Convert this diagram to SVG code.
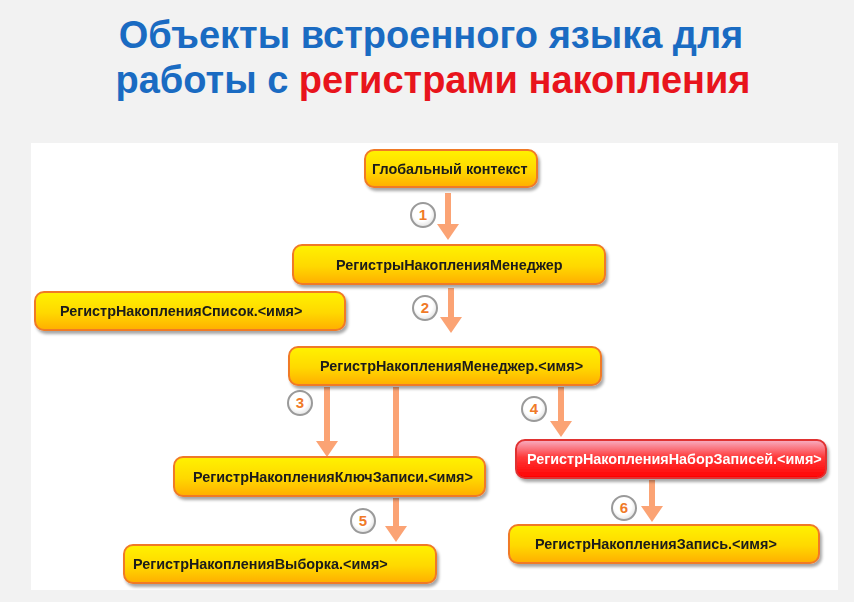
<svg xmlns="http://www.w3.org/2000/svg" width="854" height="602" viewBox="0 0 854 602">
<defs>
<linearGradient id="gy" x1="0" y1="0" x2="0" y2="1">
<stop offset="0" stop-color="#fff200"/>
<stop offset="0.55" stop-color="#ffd800"/>
<stop offset="1" stop-color="#ffae00"/>
</linearGradient>
<linearGradient id="gr" x1="0" y1="0" x2="0" y2="1">
<stop offset="0" stop-color="#f7b0c4"/>
<stop offset="0.45" stop-color="#ff3a3a"/>
<stop offset="1" stop-color="#ff0000"/>
</linearGradient>
<radialGradient id="gc" cx="0.45" cy="0.4" r="0.6">
<stop offset="0.6" stop-color="#ffffff"/>
<stop offset="1" stop-color="#e4e4e4"/>
</radialGradient>
<filter id="sh" x="-10%" y="-30%" width="120%" height="170%">
<feGaussianBlur in="SourceAlpha" stdDeviation="1.5"/>
<feOffset dx="1.5" dy="2.5"/>
<feComponentTransfer><feFuncA type="linear" slope="0.35"/></feComponentTransfer>
<feMerge><feMergeNode/><feMergeNode in="SourceGraphic"/></feMerge>
</filter>
<marker id="ah" viewBox="0 0 16 22" refX="1" refY="11" markerWidth="16" markerHeight="22" markerUnits="userSpaceOnUse" orient="auto">
<path d="M0,0 L16,11 L0,22 Z" fill="#fba374"/>
</marker>
</defs>
<style>
.t1{font-family:"Liberation Sans",Arial,sans-serif;font-weight:bold;font-size:38px;text-anchor:middle}
.box{fill:url(#gy);stroke:#f07a28;stroke-width:2}
.rbox{fill:url(#gr);stroke:#e03030;stroke-width:2}
.lbl{font-family:"Liberation Sans",Arial,sans-serif;font-weight:bold;font-size:14.4px;fill:#1a1a1a}
.wl{fill:#ffffff}
.ln{stroke:#fba374;stroke-width:6;fill:none}
.circ{fill:url(#gc);stroke:#9a9a9a;stroke-width:2}
.num{font-family:"Liberation Sans",Arial,sans-serif;font-weight:bold;font-size:15px;fill:#f07a28;text-anchor:middle}
</style>
<rect width="854" height="602" fill="#f2f2f2"/>
<rect x="31" y="143" width="807" height="447" fill="#ffffff"/>
<g id="title">
<text class="t1" x="431" y="48" fill="#1a6bc2">Объекты встроенного языка для</text>
<text class="t1" x="433" y="93"><tspan fill="#1a6bc2">работы с </tspan><tspan fill="#e8141c">регистрами накопления</tspan></text>
</g>
<g id="connectors">
<line class="ln" x1="448" y1="193" x2="448" y2="225" marker-end="url(#ah)"/>
<line class="ln" x1="451" y1="288" x2="451" y2="318" marker-end="url(#ah)"/>
<line class="ln" x1="327" y1="387" x2="327" y2="442" marker-end="url(#ah)"/>
<line class="ln" x1="396" y1="387" x2="396" y2="458"/>
<line class="ln" x1="561" y1="387" x2="561" y2="422" marker-end="url(#ah)"/>
<line class="ln" x1="396" y1="498" x2="396" y2="527" marker-end="url(#ah)"/>
<line class="ln" x1="652" y1="480" x2="652" y2="507" marker-end="url(#ah)"/>
</g>
<g id="badges">
<g id="b1"><circle class="circ" cx="423" cy="215" r="12"/><text class="num" x="423" y="220">1</text></g>
<g id="b2"><circle class="circ" cx="425" cy="308" r="12"/><text class="num" x="425" y="313">2</text></g>
<g id="b3"><circle class="circ" cx="300" cy="403" r="12"/><text class="num" x="300" y="408">3</text></g>
<g id="b4"><circle class="circ" cx="534" cy="409" r="12"/><text class="num" x="534" y="414">4</text></g>
<g id="b5"><circle class="circ" cx="363" cy="521" r="12"/><text class="num" x="363" y="526">5</text></g>
<g id="b6"><circle class="circ" cx="624" cy="508" r="12"/><text class="num" x="624" y="513">6</text></g>
</g>
<g id="n-global" filter="url(#sh)"><rect class="box" x="365" y="150" width="172" height="37" rx="9"/><text class="lbl" x="372" y="174">Глобальный контекст</text></g>
<g id="n-managers" filter="url(#sh)"><rect class="box" x="293" y="245" width="312" height="39" rx="9"/><text class="lbl" x="336" y="270">РегистрыНакопленияМенеджер</text></g>
<g id="n-list" filter="url(#sh)"><rect class="box" x="35" y="292" width="310" height="38" rx="9"/><text class="lbl" x="60" y="316">РегистрНакопленияСписок.&lt;имя&gt;</text></g>
<g id="n-manager" filter="url(#sh)"><rect class="box" x="289" y="347" width="312" height="38" rx="9"/><text class="lbl" x="320" y="371">РегистрНакопленияМенеджер.&lt;имя&gt;</text></g>
<g id="n-key" filter="url(#sh)"><rect class="box" x="174" y="457" width="311" height="39" rx="9"/><text class="lbl" x="193" y="482">РегистрНакопленияКлючЗаписи.&lt;имя&gt;</text></g>
<g id="n-set" filter="url(#sh)"><rect class="rbox" x="516" y="440" width="310" height="38" rx="9"/><text class="lbl wl" x="527" y="464">РегистрНакопленияНаборЗаписей.&lt;имя&gt;</text></g>
<g id="n-select" filter="url(#sh)"><rect class="box" x="124" y="545" width="312" height="38" rx="9"/><text class="lbl" x="133" y="569">РегистрНакопленияВыборка.&lt;имя&gt;</text></g>
<g id="n-record" filter="url(#sh)"><rect class="box" x="509" y="525" width="310" height="38" rx="9"/><text class="lbl" x="535" y="549">РегистрНакопленияЗапись.&lt;имя&gt;</text></g>
</svg>
